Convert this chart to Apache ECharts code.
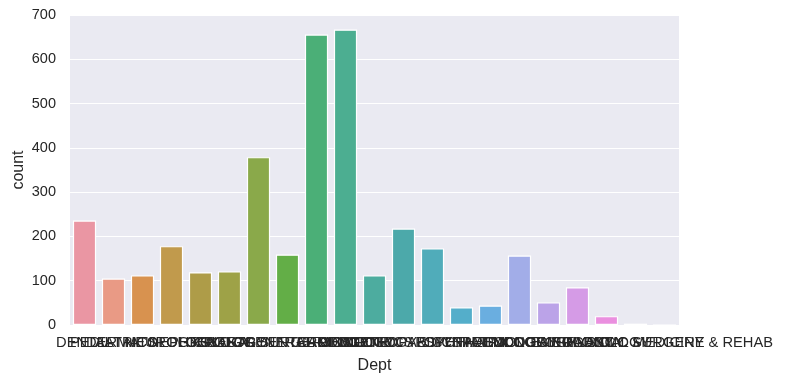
<!DOCTYPE html>
<html><head><meta charset="utf-8">
<script src="https://cdn.jsdelivr.net/npm/echarts@6/dist/echarts.min.js"></script>
<style>html,body{margin:0;padding:0;background:#fff}#c{width:786px;height:384px}</style>
</head><body><div id="c"></div>
<script>
const categories = ["DENTAL","PEDIATRICS","DERMATOLOGY","NEUROLOGY","NEPHROLOGY","UROLOGY","GENERAL SURGERY","GASTROENTEROLOGY","GENERAL MEDICINE","CARDIOLOGY","ONCOLOGY","ORTHOPAEDICS","OBSTETRICS & GYNAECOLOGY","PSYCHIATRY","OPHTHALMOLOGY","PULMONOLOGY","ENDOCRINOLOGY","EMERGENCY","RADIOLOGY","PLASTIC SURGERY","PHYSICAL MEDICINE & REHAB"];
const counts = [236, 105, 112, 178, 119, 121, 379, 159, 656, 667, 112, 218, 173, 40, 44, 157, 51, 85, 20, 3, 0];
const barColors = ["#EA96A3","#E99A85","#D8924F","#C19A4C","#AE9C48","#9EA247","#8AA94A","#63AE47","#4BAF77","#4CAE91","#4DAC9F","#4CA9AA","#50ACBA","#54AECA","#6AAEE0","#A2ADE8","#BBA3E8","#D59BE6","#EA8FDF","#EC8FC3","#EA93B5"];
const yTicks = [0,100,200,300,400,500,600,700];

const FONT = 'Liberation Sans, Arial, sans-serif';
const chart = echarts.init(document.getElementById('c'), null, {renderer:'canvas'});
chart.setOption({
  animation:false,
  backgroundColor:'#ffffff',
  grid:{left:70,right:107,top:15,bottom:59,show:true,backgroundColor:'#EAEAF2',borderWidth:0,containLabel:false,outerBoundsMode:'none'},
  xAxis:{
    type:'category', data:categories,
    name:'Dept', nameLocation:'middle', nameGap:33, nameMoveOverlap:false,
    nameTextStyle:{color:'#262626',fontSize:16,fontFamily:FONT},
    axisLine:{show:false}, axisTick:{show:false},
    axisLabel:{interval:0,color:'#262626',fontSize:14.7,margin:10,fontFamily:FONT,hideOverlap:false},
    splitLine:{show:false}
  },
  yAxis:{
    type:'value', min:yTicks[0], max:yTicks[yTicks.length-1], interval:100,
    name:'count', nameLocation:'middle', nameGap:43.5, nameMoveOverlap:false,
    nameTextStyle:{color:'#262626',fontSize:16,fontFamily:FONT},
    axisLine:{show:false}, axisTick:{show:false},
    axisLabel:{color:'#262626',fontSize:14.5,margin:14,fontFamily:FONT},
    splitLine:{show:true,lineStyle:{color:'#ffffff',width:1.2}}
  },
  series:[{
    type:'bar', barWidth:'80%',
    data: counts.map((v,i)=>({value:v,itemStyle:{color:barColors[i]}})),
    itemStyle:{borderColor:'#ffffff',borderWidth:1.2}
  }]
});
</script></body></html>
